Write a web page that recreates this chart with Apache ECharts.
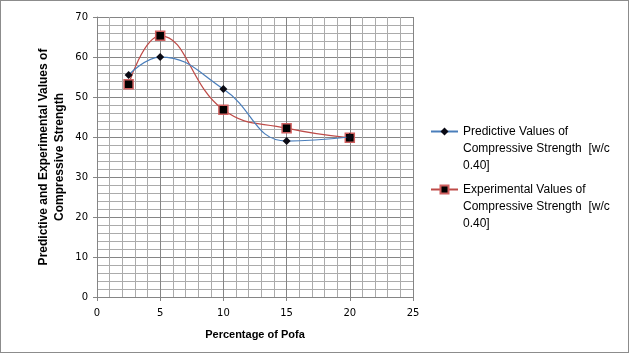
<!DOCTYPE html>
<html>
<head>
<meta charset="utf-8">
<script src="https://cdn.jsdelivr.net/npm/echarts@6/dist/echarts.min.js"></script>
<style>
    html, body { margin: 0; padding: 0; background: #fff; }
    #chart { width: 629px; height: 353px; box-sizing: border-box; border: 1px solid #8c8c8c; }
</style>
</head>
<body>
<div id="chart"></div>
<script>
// 数据
const pofaPercent = [2.5, 5, 10, 15, 20];
const predictiveValues = [55.5, 60, 52, 39, 40];
const experimentalValues = [53.2, 65.3, 46.8, 42.2, 39.8];
const seriesNames = [
    'Predictive Values of\nCompressive Strength  [w/c\n0.40]',
    'Experimental Values of\nCompressive Strength  [w/c\n0.40]'
];

const toPairs = (xs, ys) => xs.map((x, i) => [x, ys[i]]);

const chart = echarts.init(document.getElementById('chart'));

const tickFont = { fontFamily: 'DejaVu Sans', fontSize: 10, color: '#000' };
const titleFont = { fontFamily: 'Liberation Sans', fontSize: 11, fontWeight: 'bold', color: '#000', lineHeight: 15 };

const option = {
    animation: false,
    grid: { left: 96, top: 16, width: 316, height: 280 },
    legend: {
        orient: 'vertical',
        left: 429,
        top: 88,
        padding: 0,
        itemGap: -27,
        itemWidth: 27,
        itemHeight: 10,
        // 前置两个空行，让图标对齐第一行文字
        formatter: (name) => '\n\n' + name,
        textStyle: {
            fontFamily: 'Liberation Sans',
            fontSize: 12,
            lineHeight: 17,
            color: '#000'
        },
        data: seriesNames
    },
    xAxis: {
        type: 'value',
        min: 0,
        max: 25,
        interval: 5,
        name: 'Percentage of Pofa',
        nameLocation: 'middle',
        nameGap: 30,
        nameMoveOverlap: false,
        nameTextStyle: titleFont,
        axisLine: { lineStyle: { color: '#858585' } },
        axisTick: { show: true, length: 4, lineStyle: { color: '#858585' } },
        axisLabel: Object.assign({ margin: 11 }, tickFont),
        splitLine: { show: true, lineStyle: { color: '#858585', width: 1 } },
        minorTick: { show: false, splitNumber: 5 },
        minorSplitLine: { show: true, lineStyle: { color: '#ababab', width: 1 } }
    },
    yAxis: {
        type: 'value',
        min: 0,
        max: 70,
        interval: 10,
        name: 'Predictive and Experimental Values of\nCompressive Strength',
        nameLocation: 'middle',
        nameGap: 29,
        nameMoveOverlap: false,
        nameTextStyle: Object.assign({}, titleFont, { fontSize: 12, lineHeight: 16 }),
        axisLine: { show: true, lineStyle: { color: '#858585' } },
        axisTick: { show: true, length: 4, lineStyle: { color: '#858585' } },
        axisLabel: Object.assign({ margin: 9 }, tickFont),
        splitLine: { show: true, lineStyle: { color: '#858585', width: 1 } },
        minorTick: { show: false, splitNumber: 5 },
        minorSplitLine: { show: true, lineStyle: { color: '#ababab', width: 1 } }
    },
    series: [
        {
            name: seriesNames[0],
            type: 'line',
            smooth: 0.45,
            data: toPairs(pofaPercent, predictiveValues),
            symbol: 'diamond',
            symbolSize: 8,
            lineStyle: { color: '#4A7EBB', width: 1.25 },
            itemStyle: { color: '#0a0a14', borderColor: '#0a0a14', borderWidth: 0 },
            z: 3
        },
        {
            name: seriesNames[1],
            type: 'line',
            smooth: 0.45,
            data: toPairs(pofaPercent, experimentalValues),
            symbol: 'rect',
            symbolSize: 9,
            lineStyle: { color: '#BE4B48', width: 1.25 },
            itemStyle: { color: '#000', borderColor: '#D06060', borderWidth: 1.5 },
            z: 2
        }
    ]
};

chart.setOption(option);
</script>
</body>
</html>
